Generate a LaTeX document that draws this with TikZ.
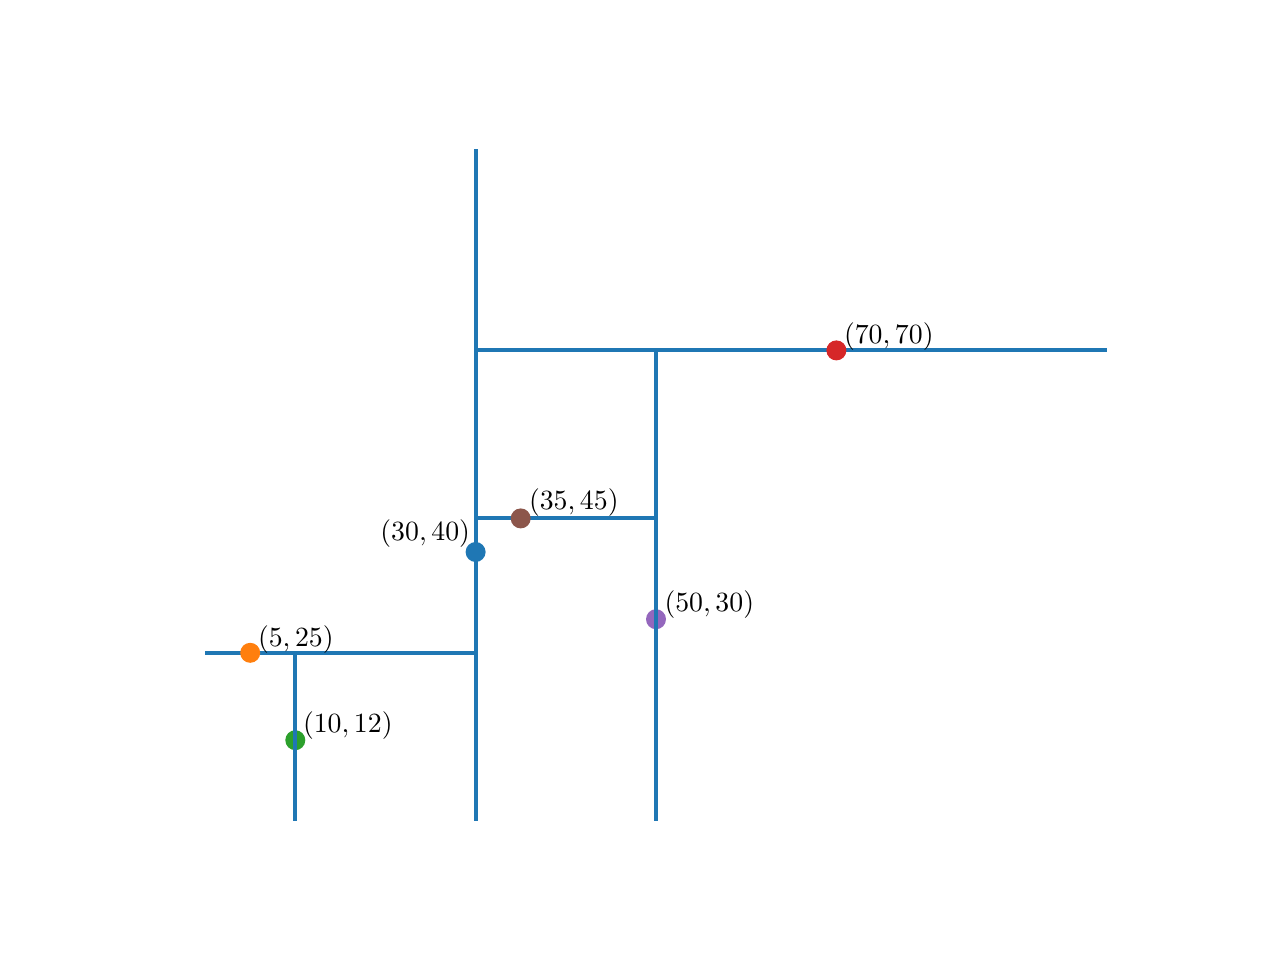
\documentclass[tikz,border=0pt]{standalone}
\definecolor{mblue}{HTML}{1F77B4}
\definecolor{morange}{HTML}{FF7F0E}
\definecolor{mgreen}{HTML}{2CA02C}
\definecolor{mred}{HTML}{D62728}
\definecolor{mpurple}{HTML}{9467BD}
\definecolor{mbrown}{HTML}{8C564B}
\tikzset{
  split/.style={draw=mblue, line width=1.5pt},
  pt/.style={circle, inner sep=0pt, minimum size=7.2pt, fill=#1, draw=none},
  lbl/.style={inner sep=0pt, font=\normalsize}
}
\begin{document}
\begin{tikzpicture}[x=0.36pt, y=-0.36pt]
\useasboundingbox (0,0) rectangle (1280,960);
% key coordinates (pixel positions)
\coordinate (r0) at (475.6,820.8);
\coordinate (r1) at (475.6,148.8);
\coordinate (l0) at (205.1,652.8);
\coordinate (l1) at (475.6,652.8);
\coordinate (t0) at (475.6,350.4);
\coordinate (t1) at (1106.9,350.4);
\coordinate (m0) at (475.6,518.4);
\coordinate (m1) at (656.0,518.4);
\coordinate (a0) at (295.3,820.8);
\coordinate (a1) at (295.3,652.8);
\coordinate (b0) at (656.0,820.8);
\coordinate (b1) at (656.0,350.4);
% splitting lines (first layer)
\draw[split] (r0) -- (r1);
\draw[split] (l0) -- (l1);
\draw[split] (t0) -- (t1);
\draw[split] (m0) -- (m1);
% points
\node[pt=morange] (p5) at (250.2,652.8) {};
\node[pt=mred] (p70) at (836.4,350.4) {};
\node[pt=mbrown] (p35) at (520.7,518.4) {};
\node[pt=mblue] (p30) at (475.6,552.0) {};
\node[pt=mgreen] (p10) at (295.3,740.2) {};
\node[pt=mpurple] (p50) at (656.0,619.2) {};
% splitting lines drawn over the leaf points
\draw[split] (a0) -- (a1);
\draw[split] (b0) -- (b1);
% labels
\node[lbl, anchor=base east] (t30) at (470.5,540) {$(30,40)$};
\node[lbl, anchor=base west] (t5) at (257.5,646) {$(5,25)$};
\node[lbl, anchor=base west] (t10) at (302.5,732.5) {$(10,12)$};
\node[lbl, anchor=base west] (t70) at (843.5,343) {$(70,70)$};
\node[lbl, anchor=base west] (t35) at (528.5,509.5) {$(35,45)$};
\node[lbl, anchor=base west] (t50) at (664,611) {$(50,30)$};
\end{tikzpicture}
\end{document}
